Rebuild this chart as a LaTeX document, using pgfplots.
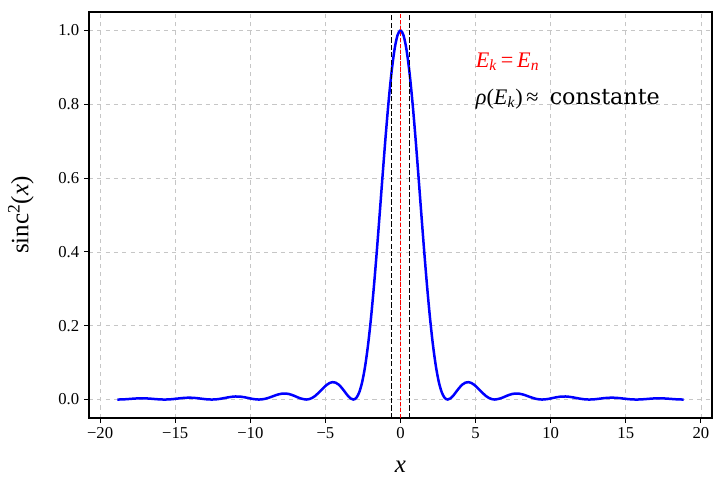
\documentclass[border=0pt]{standalone}
\usepackage{fontspec}
\setmainfont{Liberation Serif}
\newfontfamily\dvs{DejaVu Serif}
\usepackage{pgfplots}
\pgfplotsset{compat=1.18}
\usepackage{pgfplotstable}

% sinc^2(x) read at x = k*pi/16 (|x| <= 2pi) and k*pi/8 beyond
\pgfplotstableread{
x y
-18.8496 0.000000
-18.4569 0.000430
-18.0642 0.001532
-17.6715 0.002733
-17.2788 0.003349
-16.8861 0.002993
-16.4934 0.001838
-16.1007 0.000565
-15.7080 0.000000
-15.3153 0.000624
-14.9226 0.002245
-14.5299 0.004043
-14.1372 0.005004
-13.7445 0.004518
-13.3518 0.002805
-12.9591 0.000872
-12.5664 0.000000
-12.1737 0.000988
-11.7810 0.003603
-11.3883 0.006581
-10.9956 0.008271
-10.6029 0.007592
-10.2102 0.004796
-9.8175 0.001519
-9.4248 0.000000
-9.0321 0.001795
-8.6394 0.006699
-8.2467 0.012551
-7.8540 0.016211
-7.4613 0.015332
-7.0686 0.010007
-6.6759 0.003286
-6.2832 0.000000
-6.0868 0.001027
-5.8905 0.004221
-5.6941 0.009520
-5.4978 0.016542
-5.3014 0.024598
-5.1051 0.032751
-4.9087 0.039922
-4.7124 0.045032
-4.5160 0.047167
-4.3197 0.045743
-4.1233 0.040663
-3.9270 0.032423
-3.7306 0.022177
-3.5343 0.011724
-3.3379 0.003416
-3.1416 0.000000
-2.9452 0.004388
-2.7489 0.019380
-2.5525 0.047370
-2.3562 0.090060
-2.1598 0.148200
-1.9635 0.221400
-1.7671 0.308040
-1.5708 0.405280
-1.3744 0.509200
-1.1781 0.614990
-0.9817 0.717290
-0.7854 0.810570
-0.5890 0.889560
-0.3927 0.949640
-0.1963 0.987210
0.0000 1.000000
0.1963 0.987210
0.3927 0.949640
0.5890 0.889560
0.7854 0.810570
0.9817 0.717290
1.1781 0.614990
1.3744 0.509200
1.5708 0.405280
1.7671 0.308040
1.9635 0.221400
2.1598 0.148200
2.3562 0.090060
2.5525 0.047370
2.7489 0.019380
2.9452 0.004388
3.1416 0.000000
3.3379 0.003416
3.5343 0.011724
3.7306 0.022177
3.9270 0.032423
4.1233 0.040663
4.3197 0.045743
4.5160 0.047167
4.7124 0.045032
4.9087 0.039922
5.1051 0.032751
5.3014 0.024598
5.4978 0.016542
5.6941 0.009520
5.8905 0.004221
6.0868 0.001027
6.2832 0.000000
6.6759 0.003286
7.0686 0.010007
7.4613 0.015332
7.8540 0.016211
8.2467 0.012551
8.6394 0.006699
9.0321 0.001795
9.4248 0.000000
9.8175 0.001519
10.2102 0.004796
10.6029 0.007592
10.9956 0.008271
11.3883 0.006581
11.7810 0.003603
12.1737 0.000988
12.5664 0.000000
12.9591 0.000872
13.3518 0.002805
13.7445 0.004518
14.1372 0.005004
14.5299 0.004043
14.9226 0.002245
15.3153 0.000624
15.7080 0.000000
16.1007 0.000565
16.4934 0.001838
16.8861 0.002993
17.2788 0.003349
17.6715 0.002733
18.0642 0.001532
18.4569 0.000430
18.8496 0.000000
}\sinctable

\begin{document}
\begin{tikzpicture}
\begin{axis}[
  scale only axis, width=448.56pt, height=292.32pt,
  xmin=-20.74, xmax=20.74, ymin=-0.05, ymax=1.05,
  axis line style={black, line width=0.8pt},
  tick align=outside, xtick pos=bottom, ytick pos=left,
  major tick length=3.5pt, tick style={black, line width=0.8pt},
  xtick={-20,-15,-10,-5,0,5,10,15,20},
  xticklabels={−20,−15,−10,−5,0,5,10,15,20},
  ytick={0,0.2,0.4,0.6,0.8,1.0},
  yticklabels={0.0,0.2,0.4,0.6,0.8,1.0},
  ticklabel style={font=\fontsize{12}{14}\selectfont},
  grid=major, grid style={gray!45, dashed, line width=0.55pt},
  xlabel={\textit{x}}, ylabel={sinc\textsuperscript{2}(\textit{x})},
  label style={font=\fontsize{18}{21}\selectfont},
  xlabel style={yshift=-9pt},
  ylabel style={yshift=11pt},
  clip=false]
\addplot[blue, line width=1.8pt, smooth, tension=0.5] table {\sinctable};
\addplot[black, line width=1pt, dash pattern=on 3.7pt off 1.6pt] coordinates {(-0.6,-0.05) (-0.6,1.05)};
\addplot[black, line width=1pt, dash pattern=on 3.7pt off 1.6pt] coordinates {(0.6,-0.05) (0.6,1.05)};
\addplot[red, line width=0.8pt, dash pattern=on 3pt off 1.3pt] coordinates {(0,-0.05) (0,1.05)};
\node[anchor=base west, inner sep=0pt, text=red, font=\fontsize{16}{18}\selectfont]
  at (axis cs:5,0.9) {\textit{E}\textsubscript{\textit{k}}\,=\,\textit{E}\textsubscript{\textit{n}}};
\node[anchor=base west, inner sep=0pt, font=\fontsize{16}{18}\selectfont]
  at (axis cs:5,0.8) {\textit{ρ}(\textit{E}\textsubscript{\textit{k}})\,≈\ \ {\dvs constante}};
\end{axis}
\pgfresetboundingbox
\path (current axis.south west) ++(-64.08pt,-46.08pt) coordinate (bl);
\path (current axis.north east) ++(0.72pt,8.64pt) coordinate (tr);
\path[use as bounding box] (bl) rectangle (tr);
\end{tikzpicture}
\end{document}
